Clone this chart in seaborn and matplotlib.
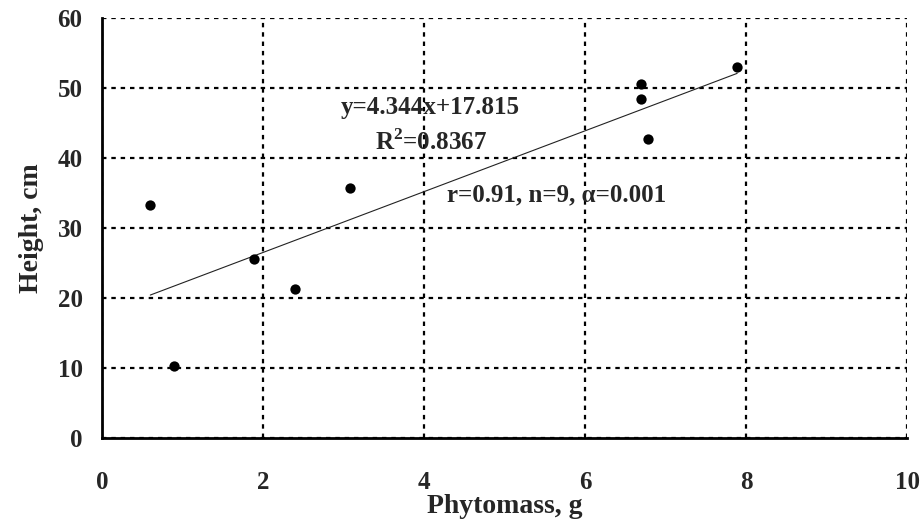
import numpy as np
import pandas as pd
import matplotlib
matplotlib.use("Agg")
import matplotlib.pyplot as plt
import seaborn as sns

# Data --------------------------------------------------------------------------
phytomass = [0.60, 0.89, 1.89, 2.40, 3.08, 6.70, 6.70, 6.78, 7.89]
height = [33.3, 10.3, 25.6, 21.3, 35.7, 50.6, 48.4, 42.7, 53.0]
slope, intercept = 4.344, 17.815
x_ticks = [0, 2, 4, 6, 8, 10]
y_ticks = [0, 10, 20, 30, 40, 50, 60]

sns.set_theme(style="white")
plt.rcParams["font.family"] = ["Liberation Serif", "DejaVu Serif"]
plt.rcParams["font.weight"] = "bold"
plt.rcParams["mathtext.fontset"] = "custom"
plt.rcParams["mathtext.rm"] = "Liberation Serif:bold"

df = pd.DataFrame({"x": phytomass, "y": height})
xs = np.array([min(phytomass), max(phytomass)])
trend = pd.DataFrame({"x": xs, "y": slope * xs + intercept})

fig = plt.figure(figsize=(9.21, 5.22), dpi=100)
ax = fig.add_axes([102 / 921, 1 - 438 / 522, 805 / 921, 420 / 522])

sns.lineplot(data=trend, x="x", y="y", ax=ax, color="#222222", lw=0.8, zorder=3)
sns.scatterplot(data=df, x="x", y="y", ax=ax, color="black", s=55,
                edgecolor="black", linewidth=0, zorder=4)

ax.set_xlim(0, 10)
ax.set_ylim(0, 60)
ax.set_xticks(x_ticks)
ax.set_yticks(y_ticks)
ax.grid(True, color="black", linestyle=(0, (2, 2.2)), linewidth=1.6)
ax.set_axisbelow(True)

for s in ["top", "right"]:
    ax.spines[s].set_visible(False)
for s in ["left", "bottom"]:
    ax.spines[s].set_color("black")
    ax.spines[s].set_linewidth(2)

ax.tick_params(axis="x", length=0, pad=24, labelsize=18)
ax.tick_params(axis="y", length=0, pad=14, labelsize=18)
for lab in ax.get_xticklabels() + ax.get_yticklabels():
    lab.set_fontweight("bold")

ax.set_xlabel("Phytomass, g", fontsize=20, fontweight="bold", labelpad=0)
ax.set_ylabel("Height, cm", fontsize=20, fontweight="bold", labelpad=10)

ax.text(0.296, 0.788, f"y={slope}x+{intercept}", transform=ax.transAxes,
        fontsize=18, fontweight="bold", ha="left", va="center")
ax.text(0.339, 0.705, r"R$^{2}$=0.8367", transform=ax.transAxes,
        fontsize=18, fontweight="bold", ha="left", va="center")
ax.text(0.429, 0.579, "r=0.91, n=9, \u03b1=0.001", transform=ax.transAxes,
        fontsize=18, fontweight="bold", ha="left", va="center")

fig.savefig("out.png", dpi=100)
